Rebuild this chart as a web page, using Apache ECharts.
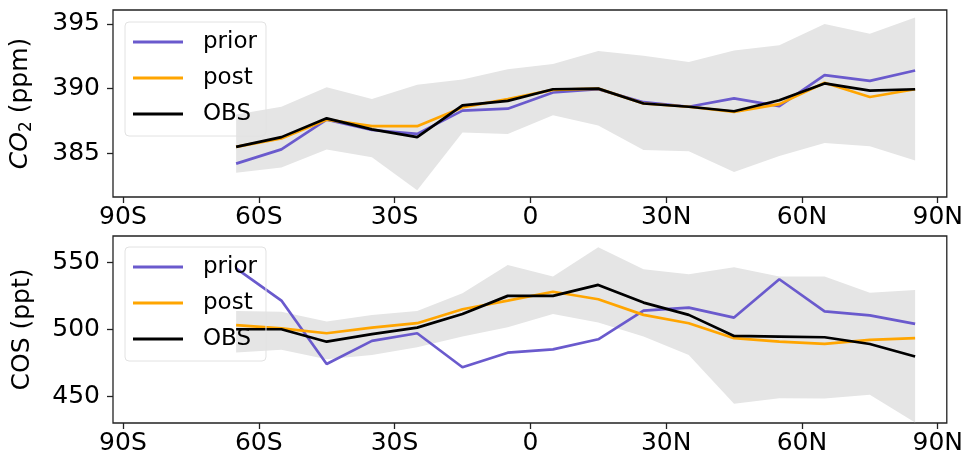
<!DOCTYPE html>
<html>
<head>
<meta charset="utf-8">
<script src="https://cdn.jsdelivr.net/npm/echarts@6/dist/echarts.min.js"></script>
<style>
  html, body { margin: 0; padding: 0; background: #fff; }
  #chart { width: 966px; height: 462px; }
</style>
</head>
<body>
<div id="chart"></div>
<script>
// latitude bands (centres)
var lat = [-65, -55, -45, -35, -25, -15, -5, 5, 15, 25, 35, 45, 55, 65, 75, 85];
var latTicks = [-90, -60, -30, 0, 30, 60, 90];
var latLabels = ['90S', '60S', '30S', '0', '30N', '60N', '90N'];

// CO2 (ppm)
var co2Prior = [384.2, 385.3, 387.6, 386.8, 386.5, 388.3, 388.45, 389.7, 389.95, 388.95, 388.6, 389.25, 388.65, 391.05, 390.6, 391.4];
var co2Post = [385.5, 386.15, 387.6, 387.1, 387.1, 388.55, 389.2, 389.9, 390.0, 388.85, 388.6, 388.2, 388.8, 390.45, 389.35, 389.95];
var co2Obs = [385.5, 386.25, 387.7, 386.85, 386.25, 388.7, 389.05, 389.95, 390.0, 388.85, 388.6, 388.25, 389.1, 390.4, 389.85, 389.95];
var co2Upper = [388.0, 388.6, 390.1, 389.2, 390.3, 390.7, 391.5, 391.9, 392.9, 392.55, 392.05, 392.95, 393.35, 395.0, 394.25, 395.5];
var co2Lower = [383.5, 383.9, 385.3, 384.7, 382.15, 386.6, 386.5, 387.95, 387.15, 385.25, 385.15, 383.55, 384.8, 385.8, 385.55, 384.45];
var co2Ticks = [385, 390, 395];

// COS (ppt)
var cosPrior = [545.5, 521.4, 474.1, 491.3, 497.0, 471.6, 482.5, 485.0, 492.5, 513.9, 516.1, 508.7, 537.3, 513.4, 510.4, 504.0];
var cosPost = [503.0, 500.7, 497.0, 501.2, 504.5, 514.9, 521.4, 528.0, 522.4, 510.7, 504.5, 493.3, 490.7, 489.0, 492.0, 493.3];
var cosObs = [500.0, 500.0, 490.7, 496.3, 501.2, 511.4, 524.9, 524.9, 533.1, 519.9, 510.7, 495.0, 494.5, 494.0, 489.0, 479.6];
var cosUpper = [513.7, 513.1, 505.7, 510.7, 513.7, 526.9, 548.0, 539.3, 561.2, 544.8, 541.0, 546.3, 539.3, 539.3, 527.3, 529.3];
var cosLower = [482.6, 484.6, 477.6, 480.8, 486.6, 494.5, 501.5, 511.4, 505.0, 494.5, 480.8, 444.3, 448.5, 448.3, 451.0, 430.3];
var cosTicks = [450, 500, 550];

var colors = { prior: '#6a5acd', post: '#ffa500', OBS: '#000000', band: '#e5e5e5' };
var font = 'DejaVu Sans';

function pairs(ys) {
    return lat.map(function (x, i) { return [x, ys[i]]; });
}

var grids = [
    { left: 113, right: 18, top: 10, height: 187 },
    { left: 113, right: 18, top: 236, height: 187 }
].map(function (g) {
    g.show = true;
    g.borderColor = '#222';
    g.borderWidth = 1.3;
    g.backgroundColor = 'transparent';
    return g;
});

var xAxes = [0, 1].map(function (i) {
    return {
        type: 'value',
        gridIndex: i,
        min: -92.2,
        max: 92,
        axisLine: { show: false, onZero: false },
        splitLine: { show: false },
        axisTick: { show: true, customValues: latTicks, length: 6, lineStyle: { color: '#222', width: 1.3 } },
        axisLabel: {
            customValues: latTicks,
            margin: 8,
            color: '#000',
            fontFamily: font,
            fontSize: 25,
            formatter: function (v) { return latLabels[latTicks.indexOf(v)]; }
        }
    };
});

function yAxis(i, min, max, ticks, name) {
    return {
        type: 'value',
        gridIndex: i,
        min: min,
        max: max,
        name: name,
        nameLocation: 'middle',
        nameGap: 78,
        nameRotate: 90,
        nameTextStyle: {
            color: '#000',
            fontFamily: font,
            fontSize: 25,
            rich: {
                i: { fontFamily: font, fontSize: 25, fontStyle: 'italic', color: '#000' },
                s: { fontFamily: font, fontSize: 17, color: '#000', verticalAlign: 'bottom', padding: [12, 0, 0, 0] },
                n: { fontFamily: font, fontSize: 25, color: '#000' }
            }
        },
        axisLine: { show: false, onZero: false },
        splitLine: { show: false },
        axisTick: { show: true, customValues: ticks, length: 6, lineStyle: { color: '#222', width: 1.3 } },
        axisLabel: { customValues: ticks, margin: 13, color: '#000', fontFamily: font, fontSize: 25 }
    };
}

// spread band: one polygon, upper edge west->east then lower edge back
function bandSeries(i, up, lo) {
    return {
        name: 'band-' + i,
        type: 'custom',
        xAxisIndex: i,
        yAxisIndex: i,
        silent: true,
        clip: true,
        z: 1,
        data: lat.map(function (x, k) { return [x, lo[k], up[k]]; }),
        encode: { x: 0, y: [1, 2] },
        renderItem: function (params, api) {
            if (params.dataIndex !== 0) return;
            var pts = [];
            for (var k = 0; k < lat.length; k++) pts.push(api.coord([lat[k], up[k]]));
            for (var k = lat.length - 1; k >= 0; k--) pts.push(api.coord([lat[k], lo[k]]));
            return {
                type: 'polygon',
                shape: { points: pts },
                style: { fill: colors.band }
            };
        }
    };
}

function lineSeries(i, name, ys) {
    return {
        name: name, type: 'line', xAxisIndex: i, yAxisIndex: i,
        symbol: 'none',
        itemStyle: { color: colors[name] },
        lineStyle: { color: colors[name], width: 2.7 },
        data: pairs(ys), z: 3
    };
}

function legend(top) {
    return {
        data: ['prior', 'post', 'OBS'],
        orient: 'vertical',
        left: 125,
        top: top,
        icon: 'rect',
        itemWidth: 50,
        itemHeight: 3,
        itemGap: 12,
        padding: [8, 9, 10, 8],
        backgroundColor: 'transparent',
        borderColor: '#e2e2e2',
        borderWidth: 1,
        borderRadius: 4,
        selectedMode: false,
        textStyle: { color: '#000', fontFamily: font, fontSize: 23, lineHeight: 24, padding: [0, 0, 0, 15] },
        z: 10
    };
}

var chart = echarts.init(document.getElementById('chart'));
var option = {
    animation: false,
    backgroundColor: '#fff',
    grid: grids,
    xAxis: xAxes,
    yAxis: [
        yAxis(0, 381.62, 396.08, co2Ticks, '{i|CO}{s|2}{n| (ppm)}'),
        yAxis(1, 430, 569.6, cosTicks, 'COS (ppt)')
    ],
    legend: [legend(22), legend(247)],
    series: [
        bandSeries(0, co2Upper, co2Lower),
        lineSeries(0, 'prior', co2Prior),
        lineSeries(0, 'post', co2Post),
        lineSeries(0, 'OBS', co2Obs),
        bandSeries(1, cosUpper, cosLower),
        lineSeries(1, 'prior', cosPrior),
        lineSeries(1, 'post', cosPost),
        lineSeries(1, 'OBS', cosObs)
    ]
};
chart.setOption(option);
</script>
</body>
</html>
